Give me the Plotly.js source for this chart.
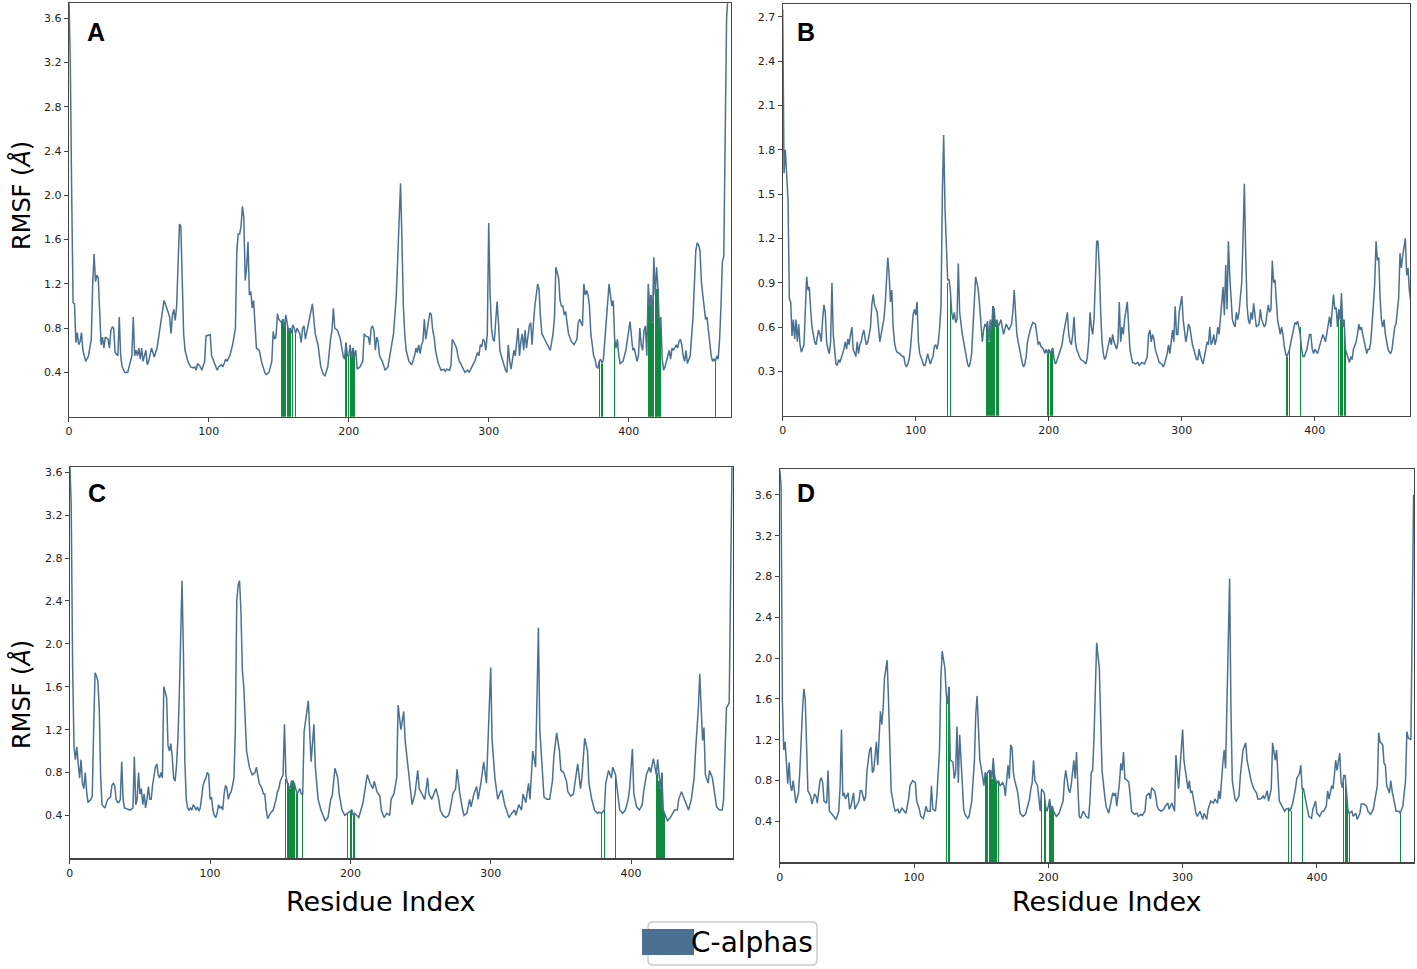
<!DOCTYPE html>
<html>
<head>
<meta charset="utf-8">
<script src="https://cdn.plot.ly/plotly-3.0.1.min.js"></script>
<style>html,body{margin:0;padding:0;background:#fff;}#chart{width:1417px;height:969px;}</style>
</head>
<body>
<div id="chart"></div>
<script>
// ---------- Panel A ----------
const resA = [0,1,2,3,4,5,6,7,8,9,10,11,12,14,16,17,18,19,20,21,22,23,24,25,26,28,29,30,31,32,33,35,36,37,38,39,40,42,44,45,46,47,48,49,50,51,52,53,55,56,57,59,60,61,63,65,67,68,70,72,73,74,75,76,77,78,79,80,81,82,83,85,87,89,90,91,92,94,95,97,98,100,101,102,103,105,106,107,109,110,112,113,115,117,119,120,121,122,123,124,125,126,127,128,129,130,131,132,133,134,136,138,140,141,143,145,146,147,148,149,150,151,152,153,154,155,156,157,158,159,160,161,162,163,165,166,167,168,169,171,174,176,178,180,182,183,185,187,188,189,190,192,194,196,197,198,199,200,201,202,203,204,205,206,208,210,211,212,214,215,216,217,218,219,220,221,222,224,226,228,230,232,234,235,237,238,239,240,241,243,245,247,248,249,250,251,252,253,254,255,257,258,259,260,261,262,264,266,268,269,270,272,273,274,276,277,278,279,280,281,283,285,286,288,290,292,293,294,295,296,297,298,299,300,301,302,303,304,306,307,308,309,310,311,312,313,314,315,316,318,319,321,322,323,324,325,326,327,328,329,330,331,332,333,335,336,337,338,340,342,344,346,347,348,349,350,351,352,353,354,355,356,357,359,361,363,364,365,366,367,368,369,370,371,372,373,374,375,376,377,378,379,380,381,382,383,384,386,387,388,389,390,391,392,393,394,396,398,401,402,403,404,406,407,408,409,410,411,412,413,414,415,416,417,418,419,420,421,422,423,424,425,426,427,428,429,430,431,432,434,435,436,437,438,439,440,441,442,444,446,447,448,449,450,451,452,453,454,455,456,457,458,459,460,461,462,463,464,465,466,467,468,469,470,471,472];
const rmsfA = [3.8,3.2,2.0,1.03,1.02,0.67,0.76,0.65,0.68,0.76,0.6,0.55,0.5,0.55,0.7,1.2,1.47,1.22,1.28,1.25,0.85,0.65,0.72,0.62,0.72,0.7,0.62,0.78,0.81,0.8,0.58,0.55,0.9,0.55,0.45,0.43,0.4,0.4,0.5,0.55,0.9,0.55,0.6,0.55,0.62,0.52,0.62,0.5,0.6,0.47,0.5,0.62,0.58,0.54,0.62,0.8,0.95,1.05,0.98,0.9,0.75,0.92,0.97,0.87,1.0,1.3,1.74,1.72,1.2,0.75,0.6,0.5,0.45,0.44,0.45,0.42,0.48,0.45,0.42,0.5,0.73,0.74,0.74,0.55,0.52,0.45,0.42,0.45,0.47,0.45,0.52,0.5,0.55,0.65,0.8,1.5,1.65,1.65,1.72,1.9,1.8,1.23,1.35,1.58,1.1,1.13,0.98,1.05,0.8,0.62,0.6,0.48,0.4,0.38,0.4,0.5,0.77,0.7,0.72,0.93,0.88,0.86,0.85,0.88,0.8,0.92,0.82,0.77,0.8,0.75,0.83,0.8,0.75,0.8,0.75,0.67,0.8,0.82,0.7,0.82,1.02,0.75,0.65,0.45,0.38,0.37,0.45,0.7,0.78,0.98,0.8,0.78,0.7,0.55,0.52,0.67,0.55,0.55,0.65,0.52,0.62,0.55,0.6,0.43,0.45,0.5,0.75,0.73,0.72,0.65,0.8,0.82,0.78,0.6,0.72,0.68,0.55,0.5,0.42,0.45,0.6,0.75,1.1,1.5,2.11,1.6,1.0,0.75,0.6,0.5,0.47,0.55,0.62,0.58,0.65,0.57,0.65,0.68,0.88,0.7,0.85,0.94,0.92,0.78,0.72,0.6,0.48,0.42,0.43,0.41,0.43,0.42,0.46,0.7,0.65,0.62,0.55,0.5,0.48,0.45,0.4,0.42,0.4,0.45,0.5,0.58,0.55,0.65,0.63,0.7,0.68,0.6,0.75,1.75,1.1,0.8,0.7,0.68,1.04,0.85,0.6,0.55,0.5,0.45,0.42,0.4,0.65,0.5,0.43,0.6,0.55,0.8,0.55,0.68,0.75,0.6,0.78,0.62,0.72,0.82,0.85,0.65,0.85,1.0,1.2,1.15,0.9,0.75,0.7,0.65,0.6,0.75,0.9,1.35,1.3,1.25,1.05,1.0,1.0,0.92,0.95,0.85,0.75,0.68,0.65,0.7,0.85,0.88,0.85,0.82,1.2,1.1,1.14,1.1,1.0,0.75,0.65,0.55,0.52,0.45,0.44,0.5,0.52,0.48,0.52,0.7,0.9,1.2,1.1,1.0,1.05,0.7,0.62,0.7,0.55,0.48,0.5,0.6,0.86,0.7,0.6,0.62,0.5,0.55,0.8,0.65,0.6,0.78,0.82,0.55,1.2,1.0,1.1,0.85,1.44,1.1,1.35,1.15,0.8,0.9,0.52,0.42,0.45,0.5,0.55,0.6,0.52,0.62,0.6,0.65,0.62,0.68,0.7,0.65,0.55,0.5,0.6,0.48,0.55,0.9,1.2,1.5,1.57,1.55,1.5,1.22,1.1,1.0,0.88,0.9,0.78,0.65,0.55,0.5,0.52,0.5,0.55,0.52,0.7,1.0,1.4,1.45,2.5,3.6,3.8,3.9];
const contactsA = [152,153,154,155,156,157,158,160,162,198,200,201,202,203,204,379,381,390,414,415,416,417,418,419,420,421,422,423,462];
const contactHA = [0.85,0.88,0.8,0.92,0.82,0.77,0.8,0.83,0.75,0.67,0.55,0.65,0.52,0.62,0.55,0.5,0.48,0.7,1.2,1.0,1.1,0.85,1.2,1.1,1.15,1.15,0.8,0.9,0.5];

// ---------- Panel B ----------
const resB = [0,1,2,3,4,5,6,7,8,9,10,11,12,13,14,16,17,18,19,20,21,22,23,24,25,26,27,28,29,30,31,32,33,34,35,36,37,38,39,40,41,42,43,45,46,47,48,49,50,51,52,53,54,55,56,57,58,59,60,61,62,63,64,65,66,67,68,69,70,71,72,73,74,75,76,77,78,79,80,81,82,83,84,85,86,88,90,91,92,93,94,95,96,97,98,99,100,101,102,103,104,105,106,107,108,109,110,111,112,113,114,115,116,117,118,119,120,121,122,123,124,125,126,127,128,129,130,131,132,133,134,135,136,137,138,139,140,141,142,143,144,145,146,147,148,149,150,151,152,153,154,155,156,157,158,159,160,161,162,164,166,168,170,172,173,174,175,176,177,178,179,180,181,182,183,184,186,188,190,191,192,193,194,196,197,198,199,200,201,202,203,204,205,206,207,208,210,211,212,214,215,216,217,218,219,220,221,222,223,224,226,228,229,230,231,232,233,234,235,236,237,238,239,240,241,242,243,244,245,246,247,248,249,250,251,252,253,254,255,256,257,259,260,261,262,263,265,267,268,270,272,274,275,276,277,278,279,280,281,282,283,285,286,287,288,289,290,291,292,293,294,295,296,297,298,300,301,302,303,304,305,306,307,308,309,310,311,312,313,314,315,316,317,318,319,320,321,322,323,324,325,326,327,328,329,330,331,332,333,334,335,336,337,338,339,340,341,342,343,344,345,346,347,348,349,350,351,352,353,354,356,358,359,360,362,363,364,365,366,367,368,369,370,371,372,373,374,375,376,377,378,379,380,381,382,383,384,385,386,387,388,389,390,391,392,393,394,395,396,397,398,399,400,402,404,406,408,410,411,412,413,414,415,416,417,418,419,420,421,422,423,424,425,426,427,428,429,430,431,432,433,434,435,436,437,438,439,440,441,442,443,444,445,446,447,448,449,450,451,452,453,454,455,456,457,458,459,460,461,463,464,465,466,468,469,470,471,472];
const rmsfB = [2.75,1.64,1.8,1.64,1.46,0.79,0.77,0.54,0.65,0.52,0.65,0.5,0.62,0.48,0.43,0.48,0.7,0.94,0.85,0.87,0.72,0.6,0.55,0.5,0.48,0.52,0.58,0.55,0.5,0.65,0.75,0.7,0.5,0.45,0.42,0.5,0.9,0.55,0.42,0.35,0.34,0.38,0.36,0.42,0.45,0.5,0.45,0.52,0.48,0.55,0.6,0.45,0.42,0.4,0.5,0.42,0.48,0.5,0.55,0.58,0.52,0.48,0.5,0.55,0.6,0.75,0.82,0.75,0.72,0.7,0.6,0.5,0.55,0.6,0.65,0.75,0.9,1.07,0.95,0.77,0.85,0.6,0.5,0.45,0.43,0.42,0.4,0.4,0.35,0.33,0.35,0.38,0.45,0.55,0.68,0.72,0.68,0.77,0.5,0.42,0.4,0.37,0.34,0.34,0.38,0.42,0.38,0.35,0.38,0.4,0.47,0.48,0.45,0.5,0.6,0.75,1.5,1.9,1.4,1.08,0.92,0.92,0.85,0.7,0.65,0.7,0.63,0.65,1.03,0.7,0.6,0.55,0.5,0.45,0.4,0.35,0.33,0.36,0.42,0.6,0.78,0.94,0.9,0.85,0.75,0.6,0.5,0.58,0.62,0.6,0.64,0.5,0.65,0.58,0.74,0.72,0.6,0.65,0.6,0.65,0.55,0.62,0.58,0.62,0.7,0.85,0.65,0.55,0.5,0.45,0.4,0.36,0.33,0.35,0.4,0.5,0.58,0.63,0.62,0.55,0.48,0.5,0.47,0.45,0.42,0.45,0.42,0.45,0.42,0.44,0.46,0.38,0.35,0.37,0.4,0.42,0.48,0.55,0.6,0.7,0.55,0.5,0.48,0.55,0.67,0.5,0.45,0.42,0.4,0.38,0.37,0.35,0.4,0.5,0.7,0.6,0.55,0.65,0.9,1.18,1.18,1.0,0.7,0.5,0.42,0.38,0.4,0.45,0.5,0.53,0.48,0.55,0.5,0.48,0.45,0.5,0.77,0.5,0.6,0.55,0.65,0.77,0.55,0.45,0.4,0.36,0.35,0.36,0.34,0.36,0.35,0.4,0.55,0.58,0.5,0.55,0.52,0.45,0.42,0.38,0.36,0.35,0.33,0.35,0.38,0.42,0.48,0.42,0.5,0.58,0.5,0.74,0.55,0.55,0.7,0.81,0.65,0.58,0.5,0.55,0.62,0.6,0.52,0.48,0.45,0.42,0.38,0.38,0.45,0.4,0.37,0.35,0.4,0.45,0.5,0.48,0.6,0.48,0.5,0.55,0.48,0.52,0.6,0.55,0.65,0.78,0.87,0.68,1.02,0.72,1.18,0.95,0.8,0.65,0.62,0.6,0.7,0.65,0.7,0.78,0.9,1.2,1.57,1.1,0.75,0.65,0.62,0.7,0.65,0.76,0.6,0.62,0.72,0.65,0.6,0.62,0.7,0.75,0.7,0.72,1.05,0.9,0.92,0.8,0.65,0.6,0.55,0.6,0.55,0.47,0.42,0.4,0.43,0.45,0.5,0.55,0.6,0.63,0.62,0.64,0.6,0.55,0.45,0.4,0.4,0.42,0.45,0.5,0.55,0.55,0.45,0.42,0.45,0.42,0.48,0.55,0.5,0.6,0.67,0.6,0.7,0.82,0.72,0.73,0.6,0.72,0.65,0.83,0.6,0.65,0.45,0.42,0.38,0.36,0.4,0.38,0.45,0.48,0.5,0.55,0.62,0.58,0.6,0.55,0.5,0.45,0.42,0.45,0.45,0.5,0.6,0.75,0.9,1.18,1.05,1.07,0.8,0.65,0.6,0.65,0.55,0.5,0.45,0.43,0.42,0.45,0.55,0.6,0.62,0.8,1.1,1.0,1.08,1.2,0.95,1.0,0.85,0.78];
const contactsB = [124,126,153,154,155,156,157,158,159,161,162,199,200,201,202,203,379,381,389,418,419,420,421,422,423];
const contactHB = [0.9,0.85,0.6,0.64,0.5,0.65,0.58,0.74,0.72,0.65,0.6,0.42,0.45,0.42,0.44,0.46,0.4,0.45,0.6,0.72,0.65,0.83,0.6,0.65,0.45];

// ---------- Panel C ----------
const resC = [0,1,2,3,4,5,6,7,8,9,10,11,12,13,15,16,17,18,19,20,21,22,23,24,25,27,29,30,31,32,33,34,35,36,37,38,39,41,43,45,46,47,48,49,50,51,52,53,54,55,56,57,58,59,60,61,62,63,64,65,66,67,68,69,70,71,72,73,74,75,76,77,78,79,80,81,82,83,84,85,86,87,88,89,90,91,92,93,94,95,96,97,98,99,100,101,102,103,104,105,106,107,108,109,110,111,112,113,114,115,116,117,118,119,120,121,122,123,124,125,126,128,130,132,133,135,137,138,139,140,141,143,145,147,148,149,150,152,153,154,155,157,158,159,160,162,164,165,166,167,169,170,172,174,175,177,179,181,182,184,186,187,189,191,192,194,196,199,201,202,203,206,209,212,214,216,217,219,221,222,224,226,228,229,231,233,234,236,238,239,241,243,244,246,248,249,251,253,255,256,258,260,261,263,264,266,268,270,271,273,275,276,278,280,281,283,285,286,288,290,291,293,295,297,298,300,301,303,305,307,308,310,312,313,315,317,318,320,322,323,325,327,328,330,332,334,335,337,338,340,342,344,345,347,349,350,352,354,355,357,359,360,362,364,365,367,369,370,372,374,376,377,379,381,382,384,386,387,389,391,392,394,396,398,399,401,402,404,406,408,409,411,413,414,416,418,419,421,422,423,425,426,428,431,433,434,436,438,440,441,443,445,446,448,449,450,451,452,453,455,456,458,460,461,463,465,466,468,470,471,472];
const rmsfC = [3.7,3.3,1.8,1.04,0.92,1.04,0.88,0.75,0.92,0.7,0.65,0.8,0.62,0.52,0.55,0.58,1.2,1.73,1.7,1.65,1.4,0.75,0.5,0.48,0.47,0.55,0.57,0.68,0.7,0.68,0.55,0.52,0.52,0.55,0.9,0.55,0.47,0.46,0.45,0.47,0.95,0.5,0.55,0.8,0.6,0.65,0.5,0.6,0.47,0.55,0.67,0.55,0.55,0.68,0.75,0.85,0.88,0.78,0.75,0.8,0.75,1.6,1.55,1.5,1.05,1.0,1.07,0.95,0.75,0.72,0.85,1.1,1.5,2.0,2.59,1.9,0.9,0.55,0.47,0.45,0.47,0.45,0.5,0.48,0.45,0.48,0.44,0.47,0.6,0.68,0.72,0.75,0.8,0.78,0.55,0.57,0.45,0.4,0.38,0.42,0.5,0.47,0.48,0.45,0.6,0.68,0.65,0.55,0.6,0.62,0.68,0.75,1.2,2.4,2.55,2.59,2.3,1.75,1.6,1.35,1.0,0.85,0.78,0.8,0.85,0.7,0.65,0.6,0.6,0.45,0.37,0.42,0.45,0.55,0.62,0.65,0.72,0.78,1.25,0.78,0.7,0.65,0.72,0.72,0.7,0.6,0.65,0.6,0.6,1.18,1.35,1.47,0.9,1.25,0.85,0.55,0.45,0.38,0.35,0.38,0.55,0.58,0.84,0.75,0.6,0.45,0.4,0.43,0.45,0.4,0.42,0.38,0.52,0.78,0.7,0.65,0.72,0.62,0.58,0.45,0.38,0.42,0.4,0.55,0.6,0.75,1.43,1.2,1.37,1.1,0.85,0.6,0.5,0.6,0.82,0.65,0.6,0.55,0.75,0.6,0.55,0.62,0.65,0.55,0.45,0.4,0.38,0.4,0.45,0.6,0.65,0.83,0.6,0.45,0.4,0.42,0.55,0.48,0.6,0.67,0.55,0.7,0.9,0.7,1.05,1.78,1.1,0.75,0.55,0.62,0.63,0.5,0.42,0.38,0.42,0.45,0.4,0.5,0.45,0.6,0.52,0.7,0.55,1.0,0.85,2.15,1.2,0.7,0.57,0.55,0.55,0.72,0.95,1.17,1.0,0.82,0.8,0.72,0.62,0.58,0.6,0.7,0.88,0.65,0.75,1.12,1.0,0.7,0.55,0.45,0.42,0.43,0.42,0.45,0.7,0.82,0.75,0.85,0.78,0.55,0.45,0.42,0.45,0.55,0.65,1.02,0.6,0.48,0.45,0.5,0.62,0.78,0.85,0.8,0.93,0.78,0.92,0.65,0.8,0.45,0.38,0.35,0.38,0.45,0.45,0.55,0.62,0.55,0.5,0.45,0.55,0.75,1.0,1.4,1.72,1.4,1.1,1.22,0.78,0.7,0.82,0.75,0.55,0.48,0.45,0.45,0.55,1.4,1.45,2.5,3.7];
const contactsC = [154,155,156,157,158,159,160,162,166,198,200,201,202,203,379,381,389,418,419,420,421,422,423,424];
const contactHC = [0.74,0.72,0.7,0.65,0.72,0.72,0.7,0.6,0.6,0.42,0.44,0.45,0.4,0.42,0.42,0.45,0.78,0.78,0.8,0.72,0.65,0.8,0.45,0.42];

// ---------- Panel D ----------
const resD = [0,1,2,3,4,5,6,7,8,9,10,11,12,14,15,17,18,19,20,21,23,24,26,27,28,30,31,32,33,35,36,37,39,40,42,44,45,46,47,48,49,51,52,53,55,56,57,59,60,61,63,64,65,67,68,69,70,72,73,74,75,76,77,78,80,81,82,83,85,86,88,89,91,93,94,96,97,99,101,102,104,105,107,109,110,112,113,114,116,117,119,120,121,123,124,125,126,127,129,130,131,132,133,134,136,137,138,140,141,143,145,146,147,148,149,151,152,153,154,155,156,157,158,159,160,161,162,163,164,166,167,168,170,171,172,173,174,175,177,178,179,181,183,184,186,187,188,189,190,192,193,194,195,196,197,198,199,200,201,202,203,204,206,208,209,211,212,213,215,216,217,219,220,221,222,223,224,226,227,228,230,231,232,233,234,235,236,238,239,240,242,243,245,246,248,249,250,251,253,254,255,256,257,259,260,261,262,264,266,267,269,270,272,273,275,276,277,279,280,281,282,284,286,287,289,290,292,294,295,297,298,299,300,301,302,304,305,306,307,309,310,311,313,315,316,318,319,321,323,324,326,327,328,330,331,332,333,334,335,336,337,339,340,342,343,345,347,348,350,351,353,355,356,358,360,361,363,364,366,367,369,370,371,372,374,376,377,379,380,382,384,385,387,388,389,390,391,393,394,396,397,399,400,402,404,405,407,408,409,411,412,413,414,415,417,418,419,420,421,422,423,424,426,427,429,430,432,433,435,437,438,440,442,443,445,446,447,449,450,451,452,454,455,456,458,459,461,462,464,466,467,468,470,471,472];
const rmsfD = [3.85,3.7,1.6,1.1,1.18,0.9,0.77,0.98,0.75,0.7,0.8,0.7,0.58,0.68,0.9,1.5,1.7,1.6,1.0,0.7,0.65,0.57,0.67,0.65,0.58,0.8,0.83,0.78,0.6,0.58,0.9,0.5,0.47,0.45,0.42,0.5,0.75,1.3,0.65,0.68,0.62,0.68,0.52,0.55,0.68,0.52,0.55,0.6,0.7,0.7,0.6,0.65,0.9,1.1,1.13,0.88,0.9,1.18,0.95,1.3,1.48,1.35,1.5,1.8,1.98,1.6,1.2,0.7,0.55,0.5,0.52,0.48,0.53,0.5,0.48,0.62,0.75,0.8,0.78,0.6,0.52,0.45,0.43,0.55,0.5,0.5,0.75,0.52,0.5,0.65,1.1,1.8,2.07,1.9,1.65,1.55,1.72,1.0,0.98,0.82,0.88,1.33,0.78,1.25,0.75,0.52,0.47,0.43,0.45,0.6,1.0,1.45,1.63,1.25,1.0,0.85,0.75,0.88,0.85,0.88,0.9,0.9,0.82,1.02,0.85,0.8,0.78,0.8,0.75,0.78,0.75,0.65,0.95,0.82,1.15,1.12,0.88,0.8,0.7,0.6,0.48,0.45,0.47,0.52,0.62,0.72,0.78,1.0,0.8,0.75,0.6,0.5,0.72,0.7,0.68,0.55,0.5,0.55,0.62,0.52,0.55,0.5,0.45,0.48,0.52,0.6,0.8,0.9,0.72,0.68,0.75,1.0,0.82,1.08,0.75,0.45,0.43,0.5,0.48,0.45,0.43,0.6,0.88,0.9,1.2,1.7,2.15,1.9,1.3,0.9,0.65,0.55,0.48,0.55,0.68,0.65,0.68,0.55,0.78,0.97,0.9,1.08,0.82,0.8,0.78,0.65,0.5,0.47,0.48,0.45,0.47,0.46,0.5,0.65,0.68,0.62,0.73,0.7,0.65,0.55,0.52,0.5,0.52,0.55,0.58,0.52,0.58,0.5,1.05,0.72,0.95,1.18,1.3,1.0,0.9,0.72,0.8,0.68,0.7,0.55,0.48,0.45,0.5,0.42,0.48,0.42,0.52,0.6,0.58,0.62,0.58,0.7,0.62,0.98,1.1,0.92,1.5,2.4,2.78,1.5,0.8,0.62,0.6,0.65,0.85,1.1,1.17,1.0,0.88,0.8,0.72,0.68,0.62,0.62,0.65,0.62,0.7,0.6,0.72,1.17,1.0,1.1,0.85,0.6,0.55,0.5,0.52,0.53,0.5,0.58,0.72,0.82,0.87,0.95,0.72,0.72,0.65,0.5,0.45,0.43,0.52,0.6,0.48,0.45,0.5,0.5,0.55,0.7,0.62,0.75,0.72,0.85,1.0,0.9,1.07,0.78,0.73,0.85,0.85,0.7,0.52,0.48,0.5,0.45,0.48,0.42,0.48,0.57,0.57,0.55,0.5,0.47,0.52,0.6,0.75,1.27,1.18,1.15,0.97,0.95,0.75,0.68,0.8,0.7,0.55,0.5,0.5,0.48,0.55,0.8,1.28,1.22,1.2,2.5,3.6];
const contactsD = [124,126,153,154,155,156,157,158,159,160,161,163,195,197,198,201,202,203,204,379,381,389,420,421,422,423,424,462];
const contactHD = [1.65,1.72,0.88,0.85,0.88,0.9,0.9,0.82,1.02,0.85,0.8,0.8,0.72,0.68,0.55,0.62,0.52,0.55,0.5,0.53,0.5,0.72,0.85,0.85,0.7,0.52,0.48,0.48];

// ---------- Axis ticks & texts ----------
const xTicks = [0,100,200,300,400];
const yTicksACD = [0.4,0.8,1.2,1.6,2.0,2.4,2.8,3.2,3.6];
const yTicksB = [0.3,0.6,0.9,1.2,1.5,1.8,2.1,2.4,2.7];
const panelLabels = ['A','B','C','D'];
const legendLabel = 'C-alphas';
const xTitle = 'Residue Index';
const yTitle = 'RMSF (<i>Å</i>)';

const lineColor = '#4a7191';
const greenColor = '#0f8a3e';
const W = 1417, H = 969;

const panels = [
  {res:resA, rmsf:rmsfA, cx:contactsA, cy:contactHA, xa:'x',  ya:'y'},
  {res:resB, rmsf:rmsfB, cx:contactsB, cy:contactHB, xa:'x2', ya:'y2'},
  {res:resC, rmsf:rmsfC, cx:contactsC, cy:contactHC, xa:'x3', ya:'y3'},
  {res:resD, rmsf:rmsfD, cx:contactsD, cy:contactHD, xa:'x4', ya:'y4'}
];

const traces = [];
panels.forEach(p => {
  traces.push({type:'bar', x:p.cx, y:p.cy, xaxis:p.xa, yaxis:p.ya, width:0.9,
    marker:{color:greenColor, line:{width:0}}, hoverinfo:'skip', showlegend:false});
});
panels.forEach(p => {
  traces.push({type:'scatter', mode:'lines', x:p.res, y:p.rmsf, xaxis:p.xa, yaxis:p.ya,
    line:{color:lineColor, width:1.5}, showlegend:false});
});

const px = v => v / W;
const py = v => 1 - v / H;

function xax(domain, anchor, range) {
  return {domain:domain, anchor:anchor, range:range, tickvals:xTicks,
    showline:true, mirror:true, linecolor:'#444', linewidth:1.2,
    ticks:'outside', ticklen:4, tickcolor:'#444', tickwidth:1,
    showgrid:false, zeroline:false, tickfont:{family:'DejaVu Sans', size:11, color:'#222'}};
}
function yax(domain, anchor, range, ticks) {
  return {domain:domain, anchor:anchor, range:range, tickvals:ticks, tickformat:'.1f',
    showline:true, mirror:true, linecolor:'#444', linewidth:1.2,
    ticks:'outside', ticklen:4, tickcolor:'#444', tickwidth:1,
    showgrid:false, zeroline:false, tickfont:{family:'DejaVu Sans', size:11, color:'#222'}};
}

function ann(text, x, y, size, family, extra) {
  return Object.assign({text:text, xref:'paper', yref:'paper', x:px(x), y:py(y),
    xanchor:'center', yanchor:'middle', showarrow:false,
    font:{family:family, size:size, color:'#000'}}, extra || {});
}

const layout = {
  width:W, height:H, margin:{l:0,r:0,t:0,b:0},
  paper_bgcolor:'#ffffff', plot_bgcolor:'#ffffff', showlegend:false, bargap:0,
  font:{family:'DejaVu Sans', color:'#222'},
  xaxis:  xax([px(68.9), px(730.5)], 'y',  [0,472.8]),
  yaxis:  yax([py(416.7), py(3.3)],  'x',  [0,3.735], yTicksACD),
  xaxis2: xax([px(782.7), px(1410)], 'y2', [0,471.5]),
  yaxis2: yax([py(415.7), py(4)],    'x2', [0,2.786], yTicksB),
  xaxis3: xax([px(69.8), px(733)],   'y3', [0,472.7]),
  yaxis3: yax([py(858.3), py(467.3)],'x3', [0,3.647], yTicksACD),
  xaxis4: xax([px(779.7), px(1414)], 'y4', [0,472.3]),
  yaxis4: yax([py(862.3), py(469.3)],'x4', [0,3.85], yTicksACD),
  shapes: [
    {type:'path', xref:'paper', yref:'paper',
     path:(function(){
       const x0=648,x1=817,y0=922,y1=965,r=5;
       const X=v=>px(v), Y=v=>py(v);
       return 'M'+X(x0+r)+','+Y(y0)+' L'+X(x1-r)+','+Y(y0)+' Q'+X(x1)+','+Y(y0)+' '+X(x1)+','+Y(y0+r)+
         ' L'+X(x1)+','+Y(y1-r)+' Q'+X(x1)+','+Y(y1)+' '+X(x1-r)+','+Y(y1)+
         ' L'+X(x0+r)+','+Y(y1)+' Q'+X(x0)+','+Y(y1)+' '+X(x0)+','+Y(y1-r)+
         ' L'+X(x0)+','+Y(y0+r)+' Q'+X(x0)+','+Y(y0)+' '+X(x0+r)+','+Y(y0)+' Z';
     })(),
     line:{color:'#cccccc', width:1.5}, fillcolor:'rgba(255,255,255,0.9)'},
    {type:'rect', xref:'paper', yref:'paper', x0:px(642), x1:px(694), y0:py(955), y1:py(929),
     line:{width:0}, fillcolor:lineColor}
  ],
  annotations: [
    ann('<b>'+panelLabels[0]+'</b>', 96, 32, 25, 'Liberation Sans'),
    ann('<b>'+panelLabels[1]+'</b>', 806, 32, 25, 'Liberation Sans'),
    ann('<b>'+panelLabels[2]+'</b>', 97, 493, 25, 'Liberation Sans'),
    ann('<b>'+panelLabels[3]+'</b>', 806, 493, 25, 'Liberation Sans'),
    ann(yTitle, 21, 196, 24, 'DejaVu Sans', {textangle:-90}),
    ann(yTitle, 21, 695, 24, 'DejaVu Sans', {textangle:-90}),
    ann(xTitle, 381, 901, 27, 'DejaVu Sans'),
    ann(xTitle, 1107, 901, 27, 'DejaVu Sans'),
    ann(legendLabel, 689, 942, 28, 'DejaVu Sans', {xanchor:'left'})
  ]
};

Plotly.newPlot('chart', traces, layout, {staticPlot:true, displayModeBar:false});
</script>
</body>
</html>
